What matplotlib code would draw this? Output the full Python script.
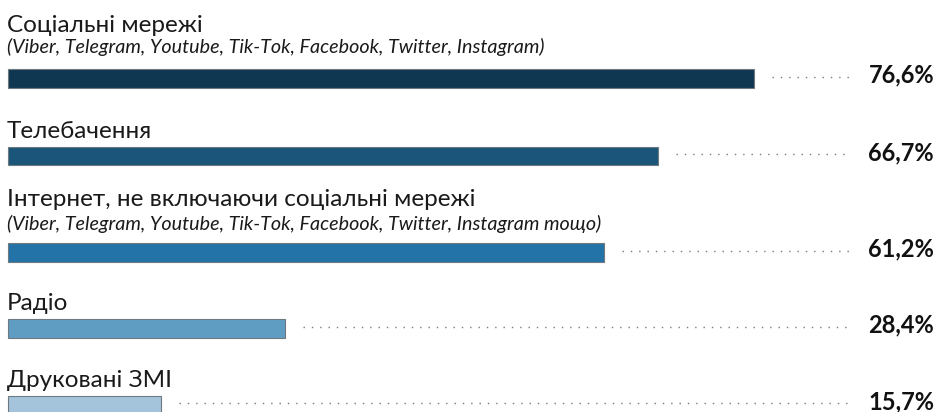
import matplotlib
matplotlib.use("Agg")
import matplotlib.pyplot as plt

# ---- data ----
categories = ["Соціальні мережі", "Телебачення",
              "Інтернет, не включаючи соціальні мережі", "Радіо", "Друковані ЗМІ"]
subtitles = ["(Viber, Telegram, Youtube, Tik-Tok, Facebook, Twitter, Instagram)", "",
             "(Viber, Telegram, Youtube, Tik-Tok, Facebook, Twitter, Instagram тощо)", "", ""]
values = [76.6, 66.7, 61.2, 28.4, 15.7]
value_labels = ["76,6%", "66,7%", "61,2%", "28,4%", "15,7%"]
colors = ["#0f3752", "#1b557a", "#2372a8", "#5f9dc3", "#a3c4db"]

# ---- layout (pixels) ----
W, H = 939, 412
px_per_unit = 9.74
x0_px = 8
bar_centers = [78.5, 156, 252.5, 328.5, 405]
bar_h = 18.5

fam = ["Lato", "DejaVu Sans"]
plt.rcParams["font.family"] = fam

fig = plt.figure(figsize=(W / 100, H / 100), dpi=100)
ax = fig.add_axes([0, 0, 1, 1])
ax.set_xlim(-x0_px / px_per_unit, (W - x0_px) / px_per_unit)
ax.set_ylim(H, 0)
ax.axis("off")

ax.barh(bar_centers, values, height=bar_h, left=0, color=colors,
        edgecolor="#6f7a80", linewidth=0.8, zorder=2)

label_x = -1 / px_per_unit
pct_x = (934 - x0_px) / px_per_unit
dot_end = (851 - x0_px) / px_per_unit
gap = 18 / px_per_unit

for i, (cat, sub, v, vl, yc) in enumerate(zip(categories, subtitles, values,
                                               value_labels, bar_centers)):
    top = yc - bar_h / 2
    bottom = yc + bar_h / 2
    if sub:
        sub_base = top - (16 if i == 0 else 13)
        main_base = sub_base - (21 if i == 0 else 24)
        ax.text(label_x, sub_base, sub, fontsize=14.2, style="italic",
                color="#1a1a1a", va="baseline", ha="left")
    else:
        main_base = top - 9
    ax.text(label_x, main_base, cat, fontsize=17.5, color="#1a1a1a",
            va="baseline", ha="left")
    ax.plot([v + gap, dot_end], [yc - 2, yc - 2], color="#7a7a7a",
            linewidth=1.0, linestyle=(0, (1.0, 5.0)), zorder=1)
    ax.text(pct_x, bottom - 5, vl, fontsize=17, fontweight="bold",
            color="#111111", va="baseline", ha="right")

fig.savefig("out.png", dpi=100)
